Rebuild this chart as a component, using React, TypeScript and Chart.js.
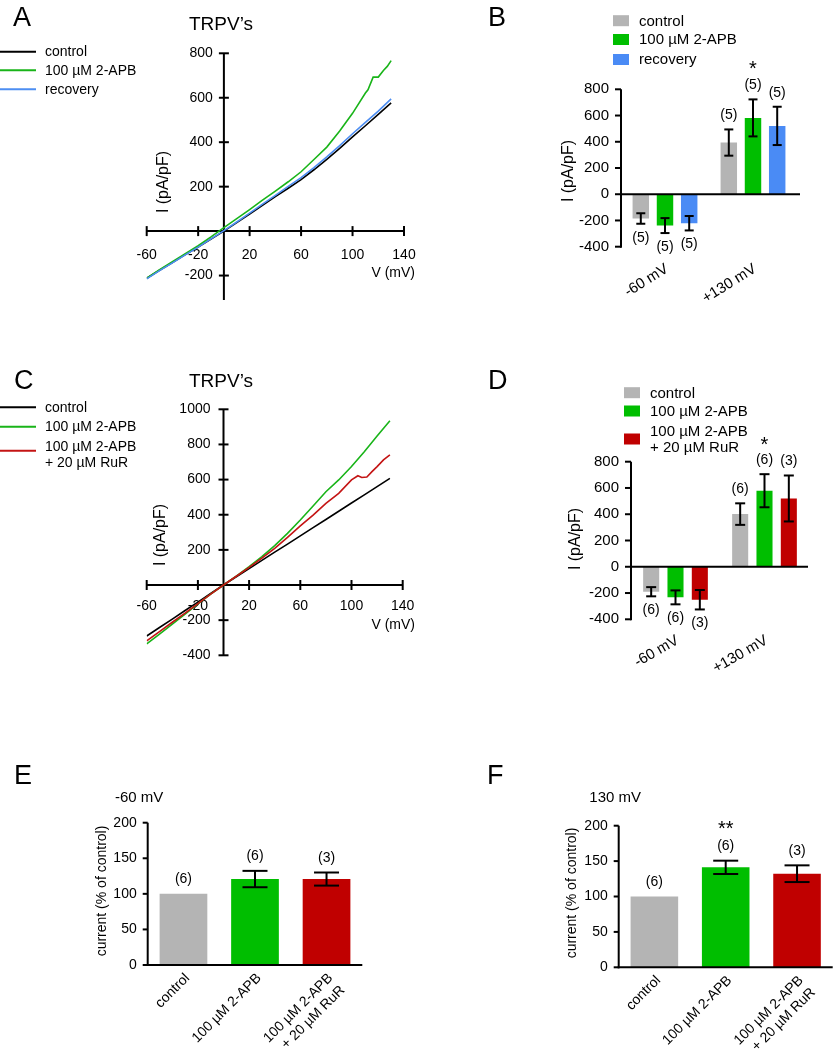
import { useEffect, useRef } from 'react';
import { Chart, registerables } from 'chart.js';

Chart.register(...registerables);

const FONT = '"Liberation Sans", Arimo, Arial, Helvetica, sans-serif';
const PAGE_W = 833;
const PAGE_H = 1050;

const COL_BLACK = '#000000';
const COL_GREEN_LINE = '#19b419';
const COL_BLUE_LINE = '#4d8ef2';
const COL_RED_LINE = '#c41414';
const COL_GREY_BAR = '#b4b4b4';
const COL_GREEN_BAR = '#00be00';
const COL_BLUE_BAR = '#4a8bf5';
const COL_RED_BAR = '#c00000';

// ===== Panel A : I-V curves =====
const A_TITLE = 'TRPV’s';
const A_LEGEND = ['control', '100 µM 2-APB', 'recovery'];
const A_X_TICKS = [-60, -20, 20, 60, 100, 140];
const A_Y_TICKS = [800, 600, 400, 200, -200];
const A_V_CONTROL = [-60, -50, -40, -30, -20, -10, 0, 10, 20, 30, 40, 50, 60, 70, 80, 90, 100, 110, 120, 130];
const A_I_CONTROL = [-212, -176, -142, -106, -72, -36, 0, 38, 77, 116, 155, 193, 232, 276, 323, 372, 424, 474, 525, 577];
const A_V_APB = [-60, -50, -40, -30, -20, -10, 0, 10, 20, 30, 40, 50, 60, 70, 80, 90, 100, 110, 112, 116, 120, 124, 127, 130];
const A_I_APB = [-212, -174, -138, -102, -66, -26, 16, 56, 97, 139, 180, 222, 267, 322, 378, 450, 530, 621, 636, 693, 693, 723, 741, 767];
const A_V_REC = [-60, -50, -40, -30, -20, -10, 0, 10, 20, 30, 40, 50, 60, 70, 80, 90, 100, 110, 120, 130];
const A_I_REC = [-215, -178, -143, -107, -72, -35, 2, 41, 81, 121, 161, 201, 241, 286, 334, 385, 438, 489, 540, 595];

// ===== Panel B : bars =====
const B_CATS = ['-60 mV', '+130 mV'];
const B_LEGEND = ['control', '100 µM 2-APB', 'recovery'];
const B_Y_TICKS = [800, 600, 400, 200, 0, -200, -400];
const B_CONTROL = [-185, 394];
const B_CONTROL_ERR = [40, 100];
const B_CONTROL_N = ['(5)', '(5)'];
const B_APB = [-239, 582];
const B_APB_ERR = [57, 141];
const B_APB_N = ['(5)', '(5)'];
const B_APB_SIG = ['', '*'];
const B_REC = [-221, 521];
const B_REC_ERR = [55, 146];
const B_REC_N = ['(5)', '(5)'];

// ===== Panel C : I-V curves =====
const C_TITLE = 'TRPV’s';
const C_LEGEND = ['control', '100 µM 2-APB', '100 µM 2-APB\n+ 20 µM RuR'];
const C_X_TICKS = [-60, -20, 20, 60, 100, 140];
const C_Y_TICKS = [1000, 800, 600, 400, 200, -200, -400];
const C_V_CONTROL = [-60, -50, -40, -30, -20, -10, 0, 10, 20, 30, 40, 50, 60, 70, 80, 90, 100, 110, 120, 130];
const C_I_CONTROL = [-290, -242, -194, -145, -97, -48, 0, 47, 93, 140, 187, 233, 280, 327, 373, 420, 467, 513, 560, 607];
const C_V_APB = [-60, -50, -40, -30, -20, -10, 0, 10, 20, 30, 40, 50, 60, 70, 80, 90, 100, 110, 120, 130];
const C_I_APB = [-335, -280, -222, -165, -108, -52, 0, 51, 104, 161, 224, 294, 370, 450, 531, 598, 674, 759, 848, 935];
const C_V_RUR = [-60, -50, -40, -30, -20, -10, 0, 10, 20, 30, 40, 50, 60, 70, 80, 90, 100, 105, 108, 112, 116, 120, 125, 130];
const C_I_RUR = [-318, -265, -212, -160, -106, -52, 0, 50, 100, 153, 209, 271, 336, 398, 465, 522, 598, 622, 612, 615, 645, 674, 712, 740];

// ===== Panel D : bars =====
const D_CATS = ['-60 mV', '+130 mV'];
const D_LEGEND = ['control', '100 µM 2-APB', '100 µM 2-APB\n+ 20 µM RuR'];
const D_Y_TICKS = [800, 600, 400, 200, 0, -200, -400];
const D_CONTROL = [-190, 401];
const D_CONTROL_ERR = [35, 82];
const D_CONTROL_N = ['(6)', '(6)'];
const D_APB = [-233, 579];
const D_APB_ERR = [53, 126];
const D_APB_N = ['(6)', '(6)'];
const D_APB_SIG = ['', '*'];
const D_RUR = [-251, 520];
const D_RUR_ERR = [74, 175];
const D_RUR_N = ['(3)', '(3)'];

// ===== Panel E / F : % of control =====
const EF_CATS = ['control', '100 µM 2-APB', ['100 µM 2-APB', '+ 20 µM RuR']];
const EF_Y_TICKS = [0, 50, 100, 150, 200];
const E_NOTE = '-60 mV';
const E_VALUES = [100, 120.8, 120.8];
const E_ERR = [0, 11.5, 9.2];
const E_N = ['(6)', '(6)', '(3)'];
const E_SIG = ['', '', ''];
const F_NOTE = '130 mV';
const F_VALUES = [100, 141.2, 132.2];
const F_ERR = [0, 9.4, 11.8];
const F_N = ['(6)', '(6)', '(3)'];
const F_SIG = ['', '**', ''];

// ===== layout (page pixel boxes of plot areas) =====
type Area = { l: number; r: number; t: number; b: number };
const AREA_A: Area = { l: 146.7, r: 404, t: 53.3, b: 300 };
const AREA_B: Area = { l: 621, r: 797, t: 89.3, b: 246.7 };
const AREA_C: Area = { l: 146.7, r: 402.7, t: 409.3, b: 655.3 };
const AREA_D: Area = { l: 631, r: 809, t: 461.7, b: 619.3 };
const AREA_E: Area = { l: 147.7, r: 362.3, t: 822.7, b: 965 };
const AREA_F: Area = { l: 618.7, r: 832.7, t: 825.7, b: 967.3 };

function pad(a: Area) {
  return { left: a.l, top: a.t, right: PAGE_W - a.r, bottom: PAGE_H - a.b };
}

function drawText(ctx: any, s: string, x: number, y: number, size: number, align = 'left', baseline = 'middle', rot = 0) {
  ctx.save();
  ctx.font = `${size}px ${FONT}`;
  ctx.fillStyle = '#000';
  ctx.textAlign = align;
  ctx.textBaseline = baseline;
  ctx.translate(x, y);
  if (rot) ctx.rotate(rot);
  ctx.fillText(s, 0, 0);
  ctx.restore();
}

function drawLine(ctx: any, x1: number, y1: number, x2: number, y2: number, w = 2, color = '#000') {
  ctx.save();
  ctx.strokeStyle = color;
  ctx.lineWidth = w;
  ctx.lineCap = 'butt';
  ctx.beginPath();
  ctx.moveTo(x1, y1);
  ctx.lineTo(x2, y2);
  ctx.stroke();
  ctx.restore();
}

function baseOptions(a: Area) {
  return {
    responsive: false,
    animation: false,
    devicePixelRatio: 1,
    events: [],
    layout: { padding: pad(a) },
    plugins: { legend: { display: false }, tooltip: { enabled: false }, title: { display: false } },
  };
}

function lineDs(label: string, V: number[], I: number[], color: string, order: number) {
  return {
    label,
    data: V.map((v, k) => ({ x: v, y: I[k] })),
    borderColor: color,
    backgroundColor: color,
    borderWidth: 1.6,
    pointRadius: 0,
    tension: 0,
    fill: false,
    order,
  };
}

function ivPlugin(s: any) {
  return {
    id: 'ivAxes',
    beforeDatasetsDraw(chart: any) {
      const ctx = chart.ctx;
      const xs = chart.scales.x;
      const ys = chart.scales.y;
      const a = chart.chartArea;
      const x0 = xs.getPixelForValue(0);
      const y0 = ys.getPixelForValue(0);
      drawLine(ctx, a.left, y0, a.right, y0, 2);
      drawLine(ctx, x0, a.top, x0, a.bottom, 2);
      for (const v of s.xTicks) {
        const px = xs.getPixelForValue(v);
        drawLine(ctx, px, y0 - 5, px, y0 + 5, 2);
        drawText(ctx, String(v), px, y0 + s.xTickDY, 14, 'center');
      }
      for (const v of s.yTicks) {
        const py = ys.getPixelForValue(v);
        drawLine(ctx, x0 - 5, py, x0 + 5, py, 2);
        drawText(ctx, String(v), x0 - s.yTickGap, py, 14, 'right');
      }
    },
    afterDraw(chart: any) {
      const ctx = chart.ctx;
      drawText(ctx, s.letter, s.letterX, s.letterBase, 27, 'left', 'alphabetic');
      drawText(ctx, s.title, s.titleX, s.titleBase, 19, 'center', 'alphabetic');
      drawText(ctx, 'I (pA/pF)', s.yTitleX, s.yTitleY, 16, 'center', 'middle', -Math.PI / 2);
      drawText(ctx, 'V (mV)', s.xTitleRight, s.xTitleY, 14, 'right');
      s.legend.forEach((lab: string, i: number) => {
        const color = chart.data.datasets[i].borderColor;
        drawLine(ctx, 0, s.legendLineYs[i], 36, s.legendLineYs[i], 2, color);
        lab.split('\n').forEach((ln: string, k: number) => {
          drawText(ctx, ln, 45, s.legendTextYs[i][k], 14, 'left');
        });
      });
    },
  };
}

function barPlugin(s: any) {
  return {
    id: 'barAxes',
    afterDatasetsDraw(chart: any) {
      const ctx = chart.ctx;
      const xs = chart.scales.x;
      const ys = chart.scales.y;
      const a = chart.chartArea;
      const y0 = ys.getPixelForValue(0);
      drawLine(ctx, a.left, a.top, a.left, a.bottom + 1, 2);
      drawLine(ctx, a.left - 1, y0, s.axisRight, y0, 2);
      for (const v of s.yTicks) {
        const py = ys.getPixelForValue(v);
        drawLine(ctx, a.left - s.tickLen, py, a.left, py, 2);
        drawText(ctx, String(v), a.left - s.tickGap, py, s.tickFont, 'right');
      }
      chart.data.datasets.forEach((ds: any, i: number) => {
        const meta = chart.getDatasetMeta(i);
        meta.data.forEach((el: any, j: number) => {
          const mean = ds.data[j];
          const err = s.errors[i][j];
          const x = el.x;
          if (err > 0) {
            const yHi = ys.getPixelForValue(mean + err);
            const yLo = ys.getPixelForValue(mean - err);
            drawLine(ctx, x, yHi, x, yLo, 2);
            drawLine(ctx, x - s.capHalf, yHi, x + s.capHalf, yHi, 2);
            drawLine(ctx, x - s.capHalf, yLo, x + s.capHalf, yLo, 2);
          }
          let ly;
          if (mean >= 0) {
            ly = ys.getPixelForValue(mean + err) - s.nGap;
          } else {
            ly = ys.getPixelForValue(mean - err) + s.nGap;
          }
          drawText(ctx, s.nLabels[i][j], x, ly, 14, 'center');
          const sig = s.sig[i] ? s.sig[i][j] : '';
          if (sig) drawText(ctx, sig, x, ly - s.sigGap + 4, 20, 'center');
        });
      });
      const ang = (s.xAngle * Math.PI) / 180;
      chart.data.labels.forEach((lab: any, j: number) => {
        const cx = xs.getPixelForValue(j);
        const lines = Array.isArray(lab) ? lab : [lab];
        lines.forEach((ln: string, k: number) => {
          const ax = cx + s.xDX + Math.sin(ang) * k * s.xLineH;
          const ay = a.bottom + s.xDY + Math.cos(ang) * k * s.xLineH;
          drawText(ctx, ln, ax, ay, s.xFont, 'right', 'middle', -ang);
        });
      });
    },
    afterDraw(chart: any) {
      const ctx = chart.ctx;
      drawText(ctx, s.letter, s.letterX, s.letterBase, 27, 'left', 'alphabetic');
      drawText(ctx, s.yTitle, s.yTitleX, s.yTitleY, s.yTitleFont, 'center', 'middle', -Math.PI / 2);
      if (s.note) drawText(ctx, s.note.text, s.note.x, s.note.y, 15, 'left');
      if (s.legend) {
        const L = s.legend;
        L.labels.forEach((lab: string, i: number) => {
          ctx.save();
          ctx.fillStyle = chart.data.datasets[i].backgroundColor;
          ctx.fillRect(L.sqX, L.sqYs[i] - L.sqH / 2, L.sqW, L.sqH);
          ctx.restore();
          lab.split('\n').forEach((ln: string, k: number) => {
            drawText(ctx, ln, L.textX, L.textYs[i][k], 15, 'left');
          });
        });
      }
    },
  };
}

function barDs(label: string, data: number[], color: any, barPct: number, catPct: number) {
  return {
    label,
    data,
    backgroundColor: color,
    borderWidth: 0,
    barPercentage: barPct,
    categoryPercentage: catPct,
  };
}

function configA(): any {
  return {
    type: 'line',
    data: {
      datasets: [
        lineDs(A_LEGEND[0], A_V_CONTROL, A_I_CONTROL, COL_BLACK, 2),
        lineDs(A_LEGEND[1], A_V_APB, A_I_APB, COL_GREEN_LINE, 1),
        lineDs(A_LEGEND[2], A_V_REC, A_I_REC, COL_BLUE_LINE, 0),
      ],
    },
    options: {
      ...baseOptions(AREA_A),
      scales: {
        x: { type: 'linear', min: -60, max: 140, display: false },
        y: { type: 'linear', min: -310, max: 800, display: false },
      },
    },
    plugins: [
      ivPlugin({
        xTicks: A_X_TICKS, yTicks: A_Y_TICKS, xTickDY: 24, yTickGap: 11,
        letter: 'A', letterX: 13, letterBase: 26,
        title: A_TITLE, titleX: 221, titleBase: 30,
        yTitleX: 163.5, yTitleY: 182, xTitleRight: 415, xTitleY: 273,
        legend: A_LEGEND, legendLineYs: [51.7, 70.3, 89.3], legendTextYs: [[52.5], [71.5], [90]],
      }),
    ],
  };
}

function configC(): any {
  return {
    type: 'line',
    data: {
      datasets: [
        lineDs('control', C_V_CONTROL, C_I_CONTROL, COL_BLACK, 2),
        lineDs('100 µM 2-APB', C_V_APB, C_I_APB, COL_GREEN_LINE, 1),
        lineDs('100 µM 2-APB + 20 µM RuR', C_V_RUR, C_I_RUR, COL_RED_LINE, 0),
      ],
    },
    options: {
      ...baseOptions(AREA_C),
      scales: {
        x: { type: 'linear', min: -60, max: 140, display: false },
        y: { type: 'linear', min: -400, max: 1000, display: false },
      },
    },
    plugins: [
      ivPlugin({
        xTicks: C_X_TICKS, yTicks: C_Y_TICKS, xTickDY: 21, yTickGap: 13,
        letter: 'C', letterX: 14, letterBase: 389,
        title: C_TITLE, titleX: 221, titleBase: 387,
        yTitleX: 160.5, yTitleY: 535, xTitleRight: 415, xTitleY: 625,
        legend: C_LEGEND, legendLineYs: [407.3, 426.7, 450.7], legendTextYs: [[408.3], [427.3], [446.7, 463.3]],
      }),
    ],
  };
}

function configB(): any {
  return {
    type: 'bar',
    data: {
      labels: B_CATS,
      datasets: [
        barDs(B_LEGEND[0], B_CONTROL, COL_GREY_BAR, 0.68, 0.825),
        barDs(B_LEGEND[1], B_APB, COL_GREEN_BAR, 0.68, 0.825),
        barDs(B_LEGEND[2], B_REC, COL_BLUE_BAR, 0.68, 0.825),
      ],
    },
    options: {
      ...baseOptions(AREA_B),
      scales: {
        x: { type: 'category', display: false, offset: true },
        y: { type: 'linear', min: -400, max: 800, display: false },
      },
    },
    plugins: [
      barPlugin({
        yTicks: B_Y_TICKS, tickLen: 6, tickGap: 12, tickFont: 15, axisRight: 800,
        errors: [B_CONTROL_ERR, B_APB_ERR, B_REC_ERR],
        nLabels: [B_CONTROL_N, B_APB_N, B_REC_N],
        sig: [null, B_APB_SIG, null],
        nGap: 14, sigGap: 20, capHalf: 4.5,
        xDX: 2, xDY: 21, xAngle: 32, xFont: 15, xLineH: 17,
        letter: 'B', letterX: 488, letterBase: 26,
        yTitle: 'I (pA/pF)', yTitleX: 568.5, yTitleY: 171, yTitleFont: 16,
        legend: {
          labels: B_LEGEND, sqX: 613, sqW: 16, sqH: 11, sqYs: [20.7, 39.5, 59.5],
          textX: 639, textYs: [[21.5], [40], [60]],
        },
      }),
    ],
  };
}

function configD(): any {
  return {
    type: 'bar',
    data: {
      labels: D_CATS,
      datasets: [
        barDs('control', D_CONTROL, COL_GREY_BAR, 0.66, 0.82),
        barDs('100 µM 2-APB', D_APB, COL_GREEN_BAR, 0.66, 0.82),
        barDs('100 µM 2-APB + 20 µM RuR', D_RUR, COL_RED_BAR, 0.66, 0.82),
      ],
    },
    options: {
      ...baseOptions(AREA_D),
      scales: {
        x: { type: 'category', display: false, offset: true },
        y: { type: 'linear', min: -400, max: 800, display: false },
      },
    },
    plugins: [
      barPlugin({
        yTicks: D_Y_TICKS, tickLen: 6, tickGap: 12, tickFont: 15, axisRight: 808,
        errors: [D_CONTROL_ERR, D_APB_ERR, D_RUR_ERR],
        nLabels: [D_CONTROL_N, D_APB_N, D_RUR_N],
        sig: [null, D_APB_SIG, null],
        nGap: 14, sigGap: 19, capHalf: 5,
        xDX: 2, xDY: 20, xAngle: 30, xFont: 15, xLineH: 17,
        letter: 'D', letterX: 488, letterBase: 389,
        yTitle: 'I (pA/pF)', yTitleX: 576, yTitleY: 539, yTitleFont: 16,
        legend: {
          labels: D_LEGEND, sqX: 624, sqW: 16, sqH: 11, sqYs: [392.7, 411, 439],
          textX: 650, textYs: [[393.5], [412], [431.7, 448]],
        },
      }),
    ],
  };
}

function configEF(area: Area, values: number[], err: number[], n: string[], sig: string[], letter: string, letterX: number, note: any, yTitleX: number, yTitleY: number): any {
  return {
    type: 'bar',
    data: {
      labels: EF_CATS,
      datasets: [barDs('current', values, [COL_GREY_BAR, COL_GREEN_BAR, COL_RED_BAR], 0.667, 1.0)],
    },
    options: {
      ...baseOptions(area),
      scales: {
        x: { type: 'category', display: false, offset: true },
        y: { type: 'linear', min: 0, max: 200, display: false },
      },
    },
    plugins: [
      barPlugin({
        yTicks: EF_Y_TICKS, tickLen: 5, tickGap: 11, tickFont: 14, axisRight: area.r,
        errors: [err], nLabels: [n], sig: [sig],
        nGap: 14.5, sigGap: 21, capHalf: 12.5,
        xDX: 4, xDY: 11, xAngle: 45, xFont: 14, xLineH: 17,
        letter, letterX, letterBase: 784,
        yTitle: 'current (% of control)', yTitleX, yTitleY, yTitleFont: 14,
        note,
      }),
    ],
  };
}

export default function App() {
  const refs = useRef<(HTMLCanvasElement | null)[]>([]);
  useEffect(() => {
    document.body.style.margin = '0';
    const cfgs = [
      configA(),
      configB(),
      configC(),
      configD(),
      configEF(AREA_E, E_VALUES, E_ERR, E_N, E_SIG, 'E', 14, { text: E_NOTE, x: 115, y: 797.7 }, 102, 891),
      configEF(AREA_F, F_VALUES, F_ERR, F_N, F_SIG, 'F', 487, { text: F_NOTE, x: 589.3, y: 798.3 }, 572, 893),
    ];
    const charts = cfgs.map((cfg, i) => new Chart(refs.current[i] as HTMLCanvasElement, cfg));
    return () => charts.forEach((c) => c.destroy());
  }, []);
  return (
    <div style={{ position: 'relative', width: PAGE_W, height: PAGE_H, background: '#ffffff', overflow: 'hidden' }}>
      {[0, 1, 2, 3, 4, 5].map((i) => (
        <canvas
          key={i}
          ref={(el) => {
            refs.current[i] = el;
          }}
          width={PAGE_W}
          height={PAGE_H}
          style={{ position: 'absolute', left: 0, top: 0 }}
        />
      ))}
    </div>
  );
}
